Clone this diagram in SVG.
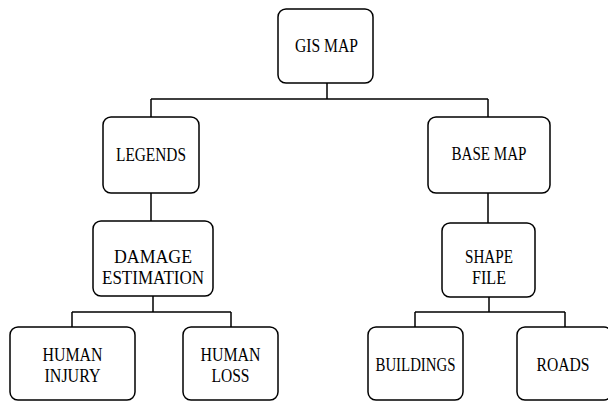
<svg xmlns="http://www.w3.org/2000/svg" width="608" height="402" viewBox="0 0 608 402">
<style>
.box{fill:#fff;stroke:#000;stroke-width:1.5}
.lbl{font-family:"Liberation Serif","Times New Roman",serif;font-size:18px;fill:#000;text-anchor:middle}
.con{fill:none;stroke:#000;stroke-width:1.5}
</style>
<rect width="608" height="402" fill="#fff"/>
<g id="connectors">
<path class="con" d="M327 83V99M151 99H488M151 99V117M488 99V117"/>
<path class="con" d="M151 193V221M488 193V223"/>
<path class="con" d="M153 296V312M72 312H231M72 312V327M231 312V327"/>
<path class="con" d="M489 297V312M415 312H565M415 312V327M565 312V327"/>
</g>
<g id="gis-map"><rect class="box" x="278" y="9" width="95" height="74" rx="8"/><text class="lbl" x="326.5" y="52" textLength="63" lengthAdjust="spacingAndGlyphs">GIS MAP</text></g>
<g id="legends"><rect class="box" x="103" y="117" width="96" height="76" rx="8"/><text class="lbl" x="151" y="161" textLength="70" lengthAdjust="spacingAndGlyphs">LEGENDS</text></g>
<g id="base-map"><rect class="box" x="428" y="117" width="122" height="76" rx="8"/><text class="lbl" x="489" y="160" textLength="75" lengthAdjust="spacingAndGlyphs">BASE MAP</text></g>
<g id="damage-estimation"><rect class="box" x="93" y="221" width="120" height="75" rx="8"/><text class="lbl" x="153" y="263" textLength="78" lengthAdjust="spacingAndGlyphs">DAMAGE</text><text class="lbl" x="153" y="284" textLength="102" lengthAdjust="spacingAndGlyphs">ESTIMATION</text></g>
<g id="shape-file"><rect class="box" x="442" y="223" width="93" height="74" rx="8"/><text class="lbl" x="489" y="263" textLength="48" lengthAdjust="spacingAndGlyphs">SHAPE</text><text class="lbl" x="489" y="284" textLength="34" lengthAdjust="spacingAndGlyphs">FILE</text></g>
<g id="human-injury"><rect class="box" x="10" y="327" width="125" height="73" rx="8"/><text class="lbl" x="72.5" y="361" textLength="60" lengthAdjust="spacingAndGlyphs">HUMAN</text><text class="lbl" x="72.5" y="382" textLength="56" lengthAdjust="spacingAndGlyphs">INJURY</text></g>
<g id="human-loss"><rect class="box" x="183" y="327" width="95" height="73" rx="8"/><text class="lbl" x="230.5" y="361" textLength="60" lengthAdjust="spacingAndGlyphs">HUMAN</text><text class="lbl" x="230.5" y="382" textLength="38" lengthAdjust="spacingAndGlyphs">LOSS</text></g>
<g id="buildings"><rect class="box" x="368" y="327" width="95" height="73" rx="8"/><text class="lbl" x="415.5" y="371" textLength="80" lengthAdjust="spacingAndGlyphs">BUILDINGS</text></g>
<g id="roads"><rect class="box" x="517" y="327" width="95" height="73" rx="8"/><text class="lbl" x="563" y="371" textLength="53" lengthAdjust="spacingAndGlyphs">ROADS</text></g>
</svg>
